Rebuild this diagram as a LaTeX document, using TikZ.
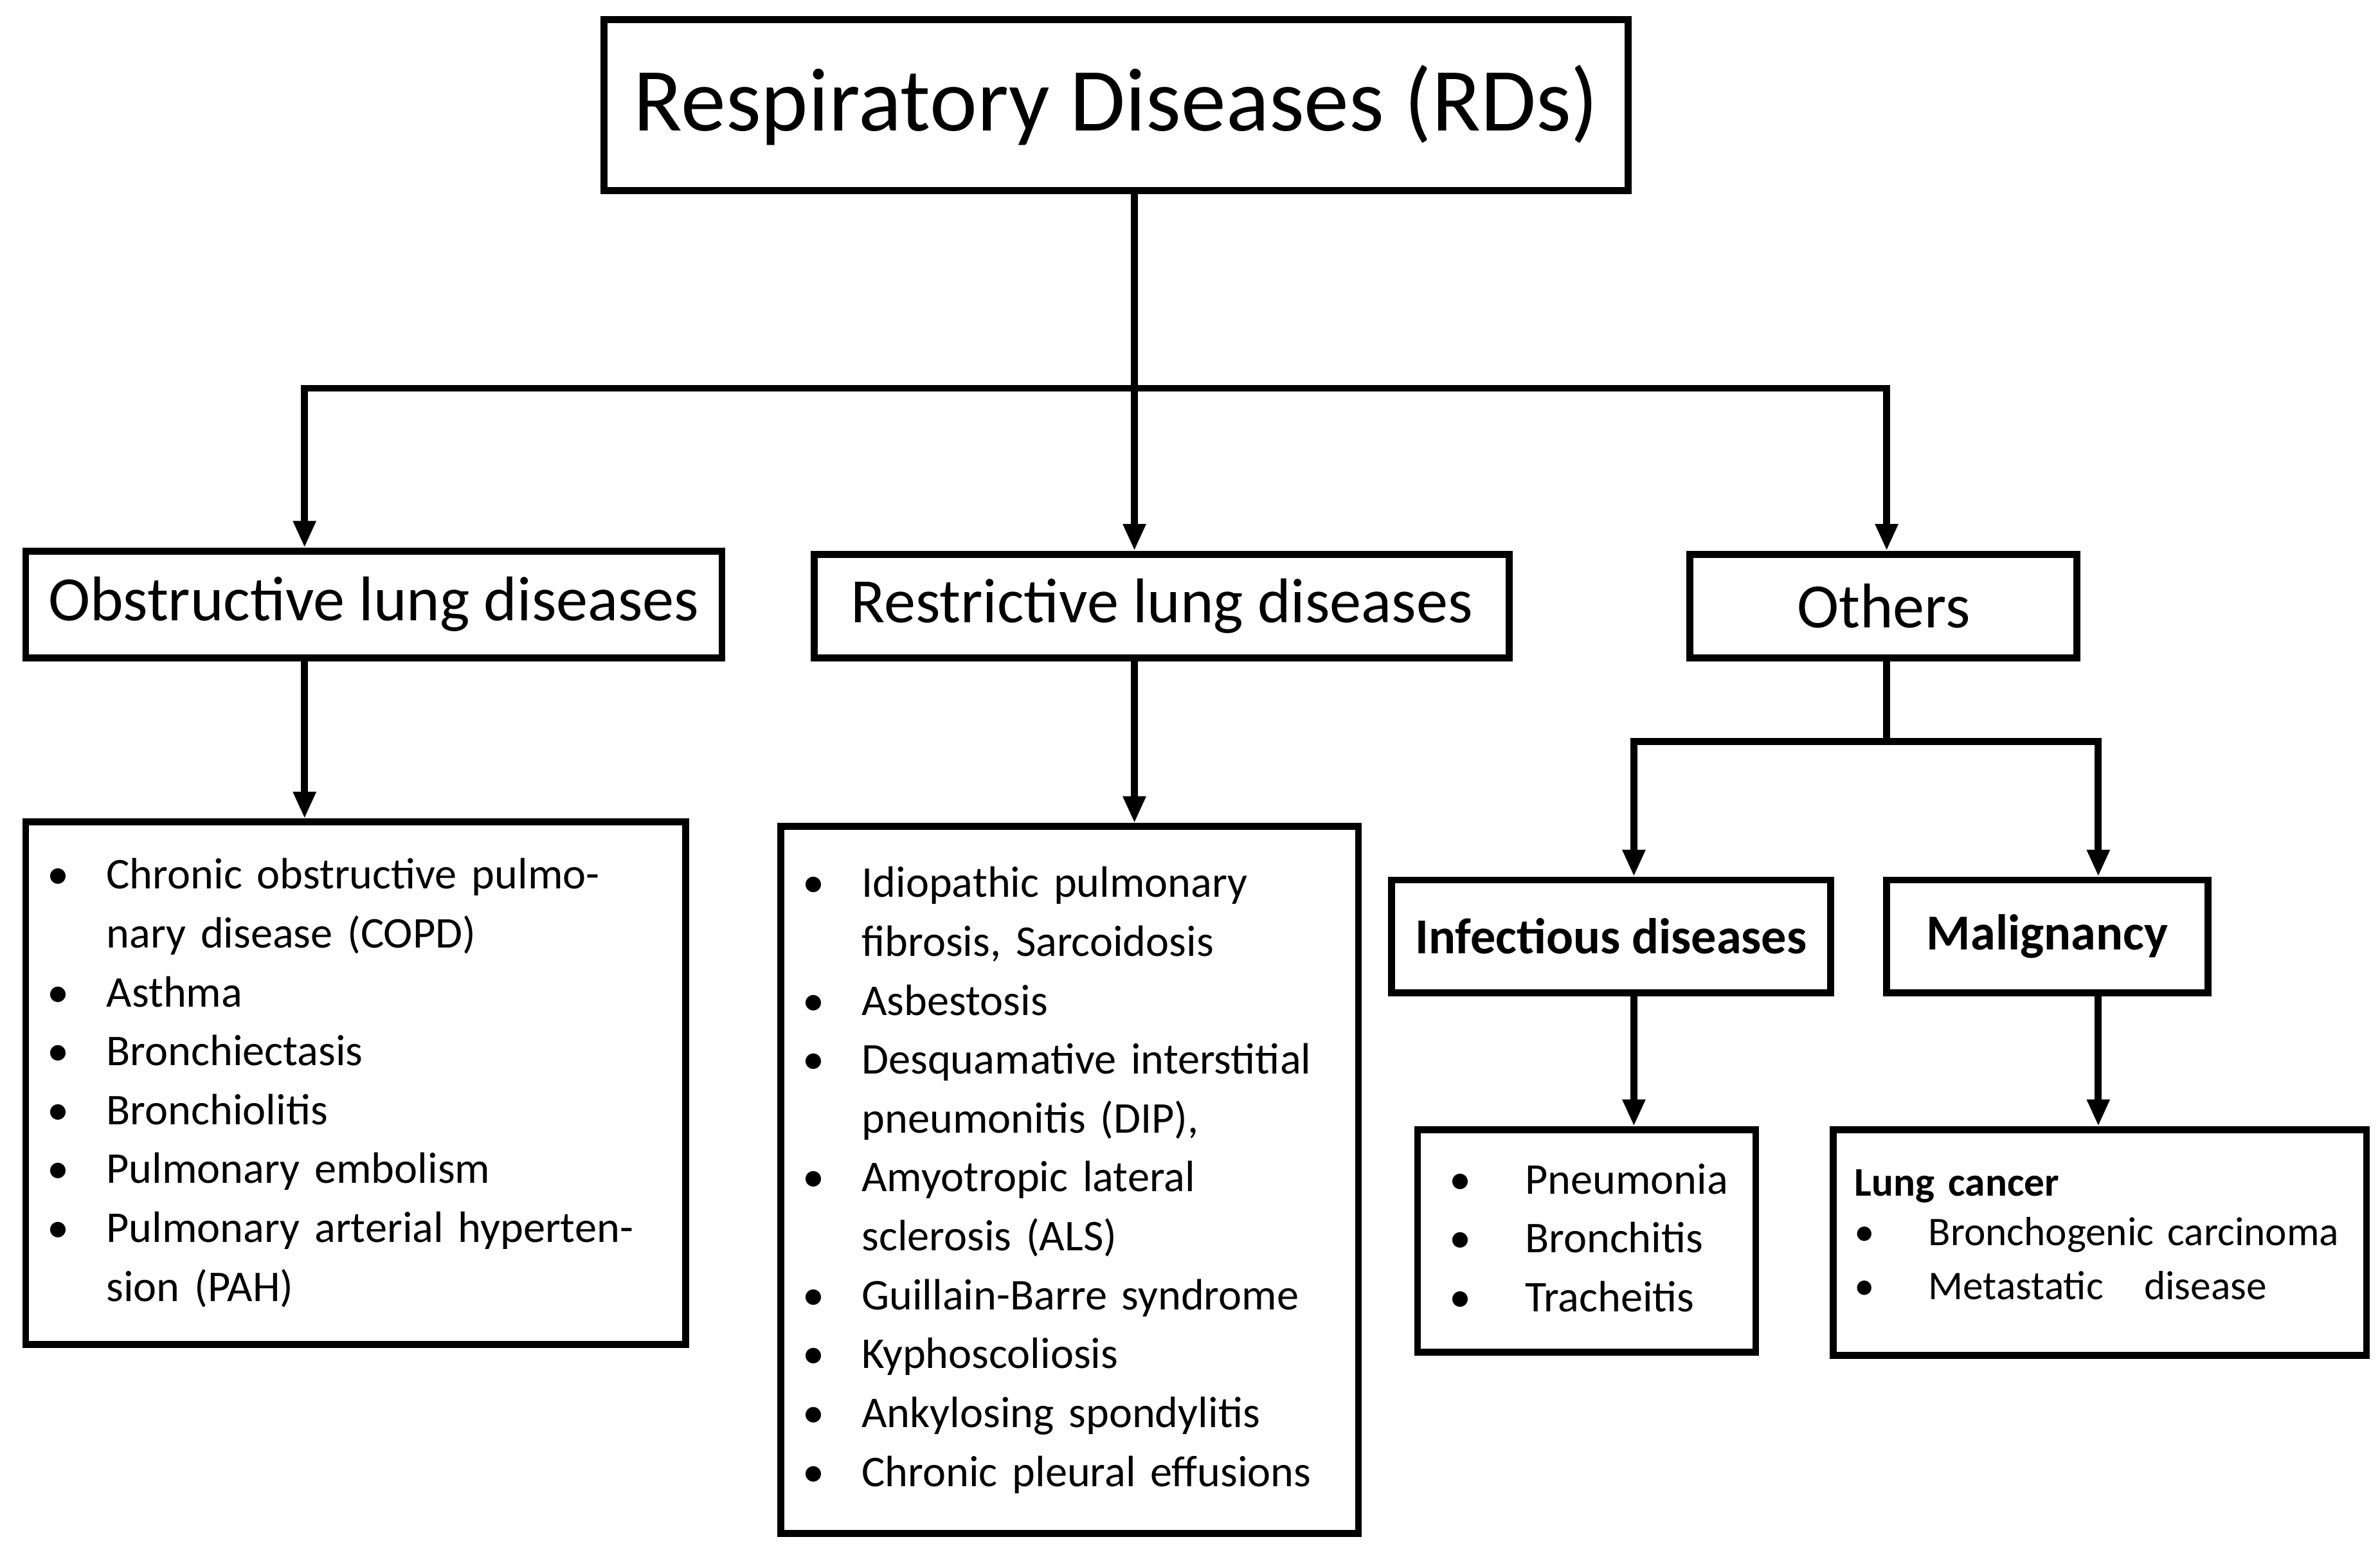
\documentclass[tikz,border=0pt]{standalone}
\usepackage{fontspec}
\setmainfont{Carlito}
\usetikzlibrary{arrows.meta}
\newcommand{\bl}{\textbullet}
\begin{document}
\begin{tikzpicture}[x=0.01cm,y=-0.01cm,line width=1.3pt,
  box/.style={draw,line width=1.3pt,inner sep=0pt},
  list/.style={box,align=left,inner xsep=4pt,font=\fontsize{8.2}{11}\selectfont},
  link/.style={-{Triangle[length=5pt,width=4pt]}}]
\useasboundingbox (0,0) rectangle (1563,1015);
% boxes
\node (rds) [box,minimum width=6.72cm,minimum height=1.12cm,font=\fontsize{16.8}{18}\selectfont] at (733,69) {Respiratory Diseases (RDs)};
\node (obs) [box,minimum width=4.57cm,minimum height=0.7cm,font=\fontsize{11.8}{12}\selectfont] at (245.5,397) {Obstructive lung diseases};
\node (res) [box,minimum width=4.56cm,minimum height=0.68cm,font=\fontsize{11.8}{12}\selectfont] at (763,398) {Restrictive lung diseases};
\node (oth) [box,minimum width=2.54cm,minimum height=0.68cm,font=\fontsize{11.8}{12}\selectfont] at (1237,398) {Others};
\node (inf) [box,minimum width=2.88cm,minimum height=0.74cm,font=\bfseries\fontsize{9.4}{10}\selectfont] at (1058,615) {Infectious diseases};
\node (mal) [box,minimum width=2.11cm,minimum height=0.74cm,font=\bfseries\fontsize{9.4}{10}\selectfont] at (1344.5,615) {Malignancy};
% lists
\node (obslist) [list,text width=4.33cm-8pt,minimum height=3.43cm] at (233.5,711.5) {%
\begin{tabular}{@{}l@{\hspace{7pt}}l@{}}
\bl & Chronic obstructive pulmo-\\
 & nary disease (COPD)\\
\bl & Asthma\\
\bl & Bronchiectasis\\
\bl & Bronchiolitis\\
\bl & Pulmonary embolism\\
\bl & Pulmonary arterial hyperten-\\
 & sion (PAH)
\end{tabular}};
\node (reslist) [list,text width=3.79cm-8pt,minimum height=4.64cm] at (702.5,775) {%
\begin{tabular}{@{}l@{\hspace{7pt}}l@{}}
\bl & Idiopathic pulmonary\\
 & fibrosis, Sarcoidosis\\
\bl & Asbestosis\\
\bl & Desquamative interstitial\\
 & pneumonitis (DIP),\\
\bl & Amyotropic lateral\\
 & sclerosis (ALS)\\
\bl & Guillain-Barre syndrome\\
\bl & Kyphoscoliosis\\
\bl & Ankylosing spondylitis\\
\bl & Chronic pleural effusions
\end{tabular}};
\node (inflist) [list,inner xsep=6pt,text width=2.22cm-12pt,minimum height=1.46cm] at (1042,815) {%
\begin{tabular}{@{}l@{\hspace{10pt}}l@{}}
\bl & Pneumonia\\
\bl & Bronchitis\\
\bl & Tracheitis
\end{tabular}};
\node (mallist) [list,text width=3.5cm-8pt,minimum height=1.48cm,font=\fontsize{7.6}{10}\selectfont] at (1379,816) {%
\textbf{Lung cancer}\\
\begin{tabular}{@{}l@{\hspace{10pt}}l@{}}
\bl & Bronchogenic carcinoma\\
\bl & Metastatic\quad disease
\end{tabular}};
% connectors
\coordinate (split) at (745,255);
\coordinate (split2) at (1239,487);
\draw (rds.south -| split) -- (split);
\draw[link] (split) -| (obs.north -| 200,0);
\draw[link] (split) -- (res.north -| split);
\draw[link] (split) -| (oth.north -| 1239,0);
\draw[link] (obs.south -| 200,0) -- (obslist.north -| 200,0);
\draw[link] (res.south -| split) -- (reslist.north -| split);
\draw (oth.south -| split2) -- (split2);
\draw[link] (split2) -| (inf.north -| 1073,0);
\draw[link] (split2) -| (mal.north -| 1378,0);
\draw[link] (inf.south -| 1073,0) -- (inflist.north -| 1073,0);
\draw[link] (mal.south -| 1378,0) -- (mallist.north -| 1378,0);
\end{tikzpicture}
\end{document}
